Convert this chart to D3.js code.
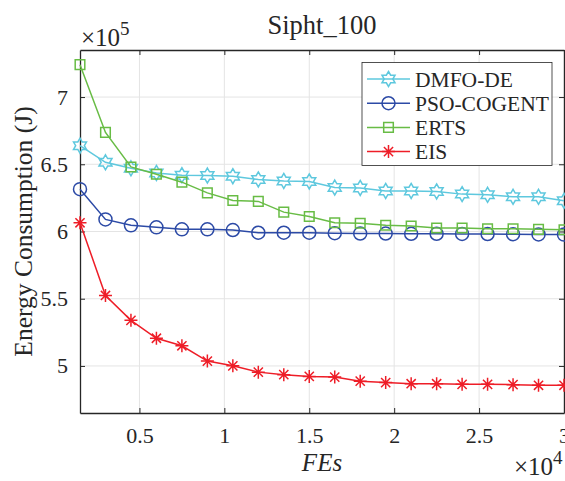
<!DOCTYPE html>
<html><head><meta charset="utf-8">
<script src="https://cdn.jsdelivr.net/npm/d3@7"></script>
<style>body{margin:0;background:#fff}svg{display:block}</style>
</head><body><svg id="c" width="565" height="481"></svg>
<script>
// ---- data ----
const fes = [1500,3000,4500,6000,7500,9000,10500,12000,13500,15000,16500,18000,19500,21000,22500,24000,25500,27000,28500,30000];
const dmfoDE = [663800,651500,647000,643600,641900,641600,641100,638700,637600,637200,632700,632400,630200,630200,629800,627800,627300,625800,625800,622800];
const psoCogent = [631500,609000,604600,603100,601600,601600,601100,599100,599100,599100,598700,598500,598500,598300,598300,598200,598100,598000,597800,597700];
const erts = [724100,673700,648000,642600,636700,628700,623100,622400,614400,611200,606500,606100,604600,604100,602600,602600,602100,602100,601600,601300];
const eis = [606500,552400,533900,520600,515000,503600,500100,495400,493500,492200,491700,488700,487600,486800,486800,486300,486300,486100,485600,485600];
const seriesNames = ["DMFO-DE","PSO-COGENT","ERTS","EIS"];
const xTicks = [5000,10000,15000,20000,25000,30000];
const xTickLabels = ["0.5","1","1.5","2","2.5","3"];
const yTicks = [500000,550000,600000,650000,700000];
const yTickLabels = ["5","5.5","6","6.5","7"];
const titleText = "Sipht_100";
const xLabel = "FEs";
const yLabel = "Energy Consumption (J)";

// ---- layout ----
const L = 80, R = 564, T = 50, B = 413;
const font = "'Liberation Serif','Times New Roman',serif";
const ink = "#262626";
const colors = ["#5ec8de","#2c4aa6","#68bc45","#ee1d27"];
const markers = ["hexagram","circle","square","asterisk"];
const data = [dmfoDE, psoCogent, erts, eis];

const svg = d3.select("#c");
const x = d3.scaleLinear().domain([1500, 30000]).range([L, R]);
const y = d3.scaleLinear().domain([465000, 735000]).range([B, T]);

// grid
const grid = svg.append("g").attr("stroke","#e4e4e4").attr("stroke-width",1);
xTicks.forEach(v => grid.append("line").attr("x1",x(v)).attr("x2",x(v)).attr("y1",T).attr("y2",B));
yTicks.forEach(v => grid.append("line").attr("x1",L).attr("x2",R).attr("y1",y(v)).attr("y2",y(v)));

// axes via d3 axis
const axB = d3.axisBottom(x).tickValues(xTicks).tickFormat((d,i)=>xTickLabels[i]).tickSizeInner(-5).tickSizeOuter(0).tickPadding(14);
const axT = d3.axisTop(x).tickValues(xTicks).tickFormat("").tickSizeInner(-5).tickSizeOuter(0);
const axLft = d3.axisLeft(y).tickValues(yTicks).tickFormat((d,i)=>yTickLabels[i]).tickSizeInner(-5).tickSizeOuter(0).tickPadding(12);
const axRt = d3.axisRight(y).tickValues(yTicks).tickFormat("").tickSizeInner(-5).tickSizeOuter(0);
function styleAxis(g){
  g.select(".domain").attr("stroke",ink).attr("stroke-width",1.3);
  g.selectAll(".tick line").attr("stroke",ink).attr("stroke-width",1);
  g.selectAll(".tick text").attr("fill",ink).style("font-family",font).style("font-size","22px");
}
svg.append("g").attr("transform",`translate(0,${B})`).call(axB).call(styleAxis);
svg.append("g").attr("transform",`translate(0,${T})`).call(axT).call(styleAxis);
svg.append("g").attr("transform",`translate(${L},0)`).call(axLft).call(styleAxis);
svg.append("g").attr("transform",`translate(${R},0)`).call(axRt).call(styleAxis);

// markers
function markerPath(type, s){
  if(type==="circle"){ return d3.symbol().type(d3.symbolCircle).size(Math.PI*s*s)(); }
  if(type==="square"){ return `M${-s},${-s}H${s}V${s}H${-s}Z`; }
  if(type==="hexagram"){
    const Ro = s, Ri = s/Math.sqrt(3); let p="";
    for(let k=0;k<12;k++){ const a = -Math.PI/2 + k*Math.PI/6; const r = k%2===0?Ro:Ri;
      p += (k===0?"M":"L") + (r*Math.cos(a)).toFixed(2)+","+(r*Math.sin(a)).toFixed(2); }
    return p+"Z";
  }
  if(type==="asterisk"){
    const d = s*0.7071;
    return `M0,${-s}V${s}M${-s},0H${s}M${-d},${-d}L${d},${d}M${-d},${d}L${d},${-d}`;
  }
}
const msize = [7.5, 6.5, 4.8, 6.5];

const line = d3.line().x((d,i)=>x(fes[i])).y(d=>y(d));
const plot = svg.append("g");
data.forEach((s, j) => {
  plot.append("path").datum(s).attr("d", line).attr("fill","none").attr("stroke",colors[j]).attr("stroke-width",1.5);
  plot.selectAll(null).data(s).enter().append("path")
    .attr("transform",(d,i)=>`translate(${x(fes[i])},${y(d)})`)
    .attr("d", markerPath(markers[j], msize[j]))
    .attr("fill","none").attr("stroke",colors[j]).attr("stroke-width",1.5);
});

// title & labels
svg.append("text").attr("x",(L+R)/2).attr("y",34).attr("text-anchor","middle")
  .style("font-family",font).style("font-size","26.5px").attr("fill",ink).text(titleText);
svg.append("text").attr("x",(L+R)/2).attr("y",471).attr("text-anchor","middle")
  .style("font-family",font).style("font-size","25px").style("font-style","italic").attr("fill",ink).text(xLabel);
svg.append("text").attr("transform",`translate(32,${(T+B)/2}) rotate(-90)`).attr("text-anchor","middle")
  .style("font-family",font).style("font-size","25.5px").attr("fill",ink).text(yLabel);
// exponents
const e5 = svg.append("text").attr("x",81).attr("y",46).style("font-family",font).style("font-size","25px").attr("fill",ink);
e5.append("tspan").text("\u00d710"); e5.append("tspan").attr("dy",-11).style("font-size","19px").text("5");
const e4 = svg.append("text").attr("x",514).attr("y",475).style("font-family",font).style("font-size","25px").attr("fill",ink);
e4.append("tspan").text("\u00d710"); e4.append("tspan").attr("dy",-11).style("font-size","19px").text("4");

// legend
const lg = svg.append("g");
lg.append("rect").attr("x",362).attr("y",62.5).attr("width",190).attr("height",103)
  .attr("fill","#fff").attr("stroke",ink).attr("stroke-width",0.8);
seriesNames.forEach((n,j)=>{
  const yy = 79 + j*24.2;
  lg.append("line").attr("x1",367).attr("x2",410).attr("y1",yy).attr("y2",yy).attr("stroke",colors[j]).attr("stroke-width",1.5);
  lg.append("path").attr("transform",`translate(388.5,${yy})`).attr("d",markerPath(markers[j],msize[j]))
    .attr("fill","none").attr("stroke",colors[j]).attr("stroke-width",1.5);
  lg.append("text").attr("x",415).attr("y",yy+7.5).style("font-family",font).style("font-size","21.5px").attr("fill",ink).text(n);
});
</script></body></html>
